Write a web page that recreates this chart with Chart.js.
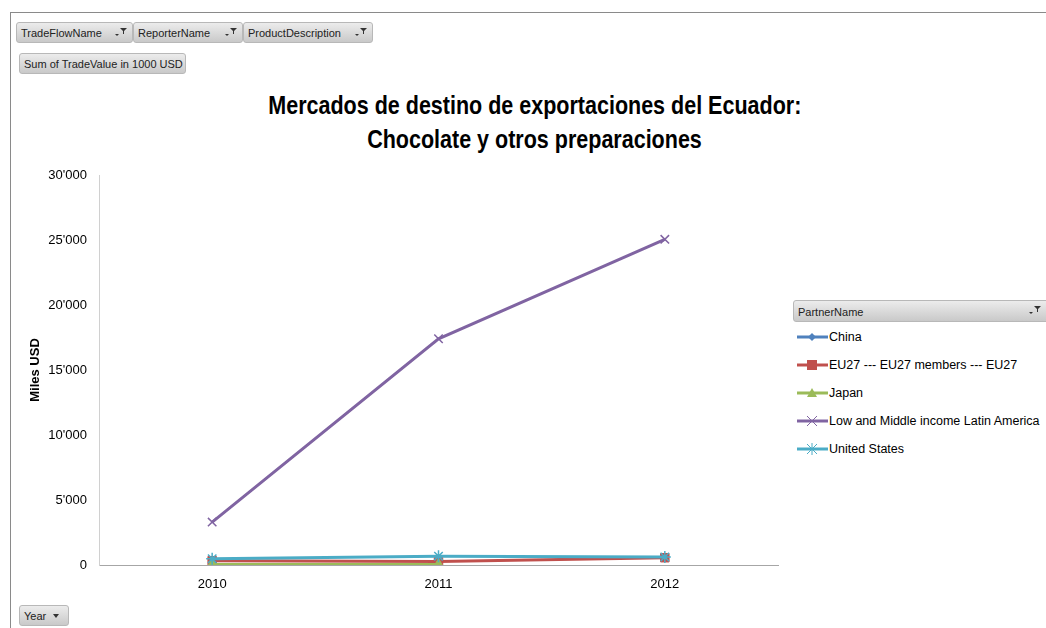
<!DOCTYPE html>
<html>
<head>
<meta charset="utf-8">
<script src="https://cdn.jsdelivr.net/npm/chart.js@4.4.1/dist/chart.umd.min.js"></script>
<style>
    body { margin: 0; width: 1046px; height: 628px; background: #fff; overflow: hidden; position: relative;
        font-family: "Liberation Sans", sans-serif; }
    .frame { position: absolute; left: 10px; top: 12px; width: 1040px; height: 620px;
        border-left: 1px solid #8a8a8a; border-top: 1px solid #8a8a8a; }
    .btn { position: absolute; height: 21px; line-height: 21px; font-size: 11px; color: #222; white-space: nowrap;
        background: linear-gradient(#ececec, #c9c9c9); border: 1px solid #b8b8b8; border-radius: 3px;
        padding-left: 4px; box-sizing: border-box; }
    .btn svg { position: absolute; right: 4px; top: 3px; }
    #title { position: absolute; left: 0; width: 1070px; top: 88px; text-align: center;
        font-weight: bold; font-size: 25px; line-height: 34px; color: #000; }
    #title span { display: inline-block; transform-origin: center; }
    #chart-wrap { position: absolute; left: 0; top: 0; width: 790px; height: 628px; }
    #legend { position: absolute; left: 797px; top: 323px; font-size: 12.5px; }
    .leg-item { height: 28px; line-height: 20px; display: flex; align-items: center; white-space: nowrap; }
    .leg-item svg { margin-right: 1px; }
</style>
</head>
<body>
<div class="frame"></div>

<div class="btn" style="left:16px;top:22px;width:117px;">TradeFlowName<svg width="14" height="12"><path d="M1 8 L3 10 L5 8 Z" fill="#333"/><path d="M6 2 L13 2 L10 5 L10 8 L9 8 L9 5 Z" fill="#333"/></svg></div>
<div class="btn" style="left:133px;top:22px;width:110px;">ReporterName<svg width="14" height="12"><path d="M1 8 L3 10 L5 8 Z" fill="#333"/><path d="M6 2 L13 2 L10 5 L10 8 L9 8 L9 5 Z" fill="#333"/></svg></div>
<div class="btn" style="left:243px;top:22px;width:130px;">ProductDescription<svg width="14" height="12"><path d="M1 8 L3 10 L5 8 Z" fill="#333"/><path d="M6 2 L13 2 L10 5 L10 8 L9 8 L9 5 Z" fill="#333"/></svg></div>
<div class="btn" style="left:19px;top:53px;width:167px;">Sum of TradeValue in 1000 USD</div>
<div class="btn" style="left:19px;top:605px;width:50px;">Year<svg width="10" height="12" style="top:5px;right:6px"><path d="M1 3 L7 3 L4 7 Z" fill="#333"/></svg></div>

<div id="title"><span id="t1">Mercados de destino de exportaciones del Ecuador:</span><br><span id="t2">Chocolate y otros preparaciones</span></div>

<div id="chart-wrap"><canvas id="exportChart"></canvas></div>

<div class="btn" style="left:793px;top:300px;width:260px;height:22px;line-height:22px;">PartnerName<svg width="14" height="12" style="right:10px"><path d="M1 8 L3 10 L5 8 Z" fill="#333"/><path d="M6 2 L13 2 L10 5 L10 8 L9 8 L9 5 Z" fill="#333"/></svg></div>
<div id="legend"></div>

<script>
// data
const years = ["2010", "2011", "2012"];
const partners = ["China", "EU27 --- EU27 members --- EU27", "Japan", "Low and Middle income Latin America", "United States"];
const chinaVals = [null, null, null];
const eu27Vals = [330, 260, 560];
const japanVals = [40, 40, null];
const latamVals = [3300, 17400, 25050];
const usVals = [480, 680, 620];
const yTicks = [0, 5000, 10000, 15000, 20000, 25000, 30000];

const colors = ["#4F81BD", "#C0504D", "#9BBB59", "#8064A2", "#4BACC6"];
const markers = ["rectRot", "rect", "triangle", "crossRot", "star"];
const allVals = [chinaVals, eu27Vals, japanVals, latamVals, usVals];

const fmt = v => String(v).replace(/\B(?=(\d{3})+(?!\d))/g, "'");

// squeeze the title to the narrow look of the original
const t1 = document.getElementById("t1");
const t2 = document.getElementById("t2");
const sx = 533 / t1.getBoundingClientRect().width;
t1.style.transform = `scaleX(${sx})`;
t2.style.transform = `scaleX(${sx})`;

const datasets = partners.map((name, i) => ({
    label: name,
    data: allVals[i],
    borderColor: colors[i],
    backgroundColor: colors[i],
    borderWidth: 3,
    pointStyle: markers[i],
    pointRadius: 6,
    pointBorderWidth: (markers[i] === "crossRot" || markers[i] === "star") ? 1.5 : 1,
    tension: 0,
    order: partners.length - i
}));

new Chart(document.getElementById("exportChart"), {
    type: "line",
    data: { labels: years, datasets: datasets },
    options: {
        responsive: true,
        maintainAspectRatio: false,
        animation: false,
        layout: { padding: { left: 0, right: 12, top: 175, bottom: 23 } },
        plugins: {
            legend: { display: false },
            tooltip: { enabled: false }
        },
        scales: {
            x: {
                offset: true,
                grid: { display: false },
                border: { display: true, color: "#a6a6a6", width: 1 },
                ticks: { color: "#000", font: { family: "Liberation Sans", size: 13 }, padding: 4 },
                afterFit: s => { s.height = 40; }
            },
            y: {
                min: 0,
                max: 30000,
                afterBuildTicks: s => { s.ticks = yTicks.map(v => ({ value: v })); },
                grid: { display: false },
                border: { display: true, color: "#d0d0d0", width: 1 },
                ticks: { color: "#000", font: { family: "Liberation Sans", size: 13 }, padding: 4, callback: v => fmt(v) },
                title: { display: true, text: "Miles USD", color: "#000", padding: { top: 28, bottom: 0 },
                    font: { family: "Liberation Sans", size: 13, weight: "bold" } },
                afterFit: s => { s.width = 99; }
            }
        }
    }
});

// legend like the pivot chart
const legendEl = document.getElementById("legend");
partners.forEach((name, i) => {
    const c = colors[i];
    let mark = "";
    if (markers[i] === "rectRot") mark = `<path d="M15 3 L19 7 L15 11 L11 7 Z" fill="${c}"/>`;
    if (markers[i] === "rect") mark = `<rect x="10" y="2" width="10" height="10" fill="${c}"/>`;
    if (markers[i] === "triangle") mark = `<path d="M15 2 L20 11 L10 11 Z" fill="${c}"/>`;
    if (markers[i] === "crossRot") mark = `<path d="M10 2 L20 12 M20 2 L10 12" stroke="${c}" stroke-width="1"/>`;
    if (markers[i] === "star") mark = `<path d="M10 2 L20 12 M20 2 L10 12 M15 1 L15 13" stroke="${c}" stroke-width="1"/>`;
    const item = document.createElement("div");
    item.className = "leg-item";
    item.innerHTML = `<svg width="31" height="14"><line x1="0" y1="7" x2="31" y2="7" stroke="${c}" stroke-width="3"/>${mark}</svg><span>${name}</span>`;
    legendEl.appendChild(item);
});
</script>
</body>
</html>
